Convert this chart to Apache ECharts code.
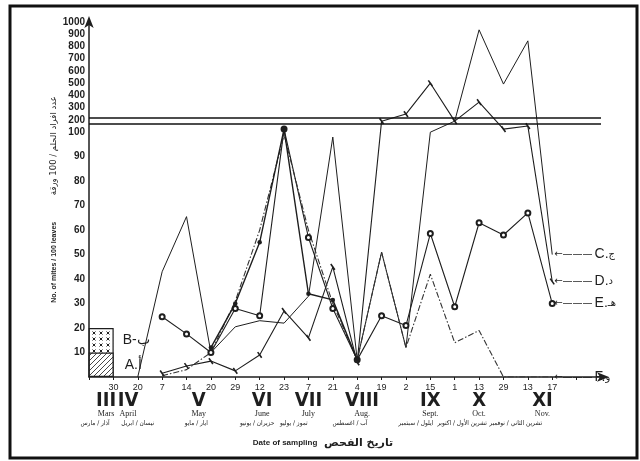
<!DOCTYPE html>
<html><head><meta charset="utf-8">
<script src="https://cdn.jsdelivr.net/npm/echarts@6/dist/echarts.min.js"></script>
<style>html,body{margin:0;padding:0;background:#fff}#c{width:640px;height:461px}</style>
</head><body><div id="c"></div>
<script>
// x positions: index 0 = 1 March (axis origin), then sampling dates
const dateLabels = ['', '30', '20', '7', '14', '20', '29', '12', '23', '7', '21', '4', '19', '2', '15', '1', '13', '29', '13', '17', '', ''];

// months (roman numeral + English) and Arabic month names
const monthPos = [0.7, 1.6, 4.5, 7.1, 9.0, 11.2, 14.0, 16.0, 18.6];
const monthRoman = ['III', 'IV', 'V', 'VI', 'VII', 'VIII', 'IX', 'X', 'XI'];
const monthEn = ['Mars', 'April', 'May', 'June', 'July', 'Aug.', 'Sept.', 'Oct.', 'Nov.'];
const monthArPos = [0.25, 2.0, 4.4, 6.9, 8.4, 10.7, 13.4, 15.3, 17.5];
const monthAr = ['آذار / مارس', 'نيسان / ابريل', 'ايار / مايو', 'حزيران / يونيو', 'تموز / يوليو', 'آب / اغسطس', 'ايلول / سبتمبر', 'تشرين الأول / اكتوبر', 'تشرين الثاني / نوفمبر'];

// mites / 100 leaves, one value per date index (null = no point)
const seriesC = [null, null, 0, 43, 65.5, 10, 20.5, 23, 22, 33, 98, 7, 51, 12, 100, 190, 936, 493, 846, 50];
const seriesD = [null, null, null, 1.5, 4.5, 6.5, 2.5, 9, 27, 16, 45, 6, 190, 248, 500, 190, 346, 125, 150, 39];
const seriesE = [null, null, null, 24.6, 17.6, 10, 28, 25, 125, 57, 28, 7, 25, 21, 58.6, 28.7, 63, 58, 67, 30];
const seriesF = [null, null, null, 0.5, 3, 10, 31, 60, 99, 60, 30, 7, 51, 12, 42, 14, 19, 0, 0, 0];
const seriesG = [null, null, null, null, null, 12, 30, 55, 125, 34, 31.5, 7];
// March blocks: A from 0 to 10, B from 10 to 20 (x = middle of March interval)
const blockX = 0.5;
const blockATop = 10;
const blockBTop = 20;

// broken axis: 0-100 linear, 100-1000 compressed (100 units per 5 display units)
function toDisp(v) { return v <= 100 ? v : 100 + (v - 100) / 20; }
function fromDisp(d) { return d <= 100 ? d : 100 + (d - 100) * 20; }
function pts(arr) {
  const out = [];
  arr.forEach((v, i) => { if (v !== null && v !== undefined) out.push([i, toDisp(v)]); });
  return out;
}

function pattern(kind) {
  const c = document.createElement('canvas');
  if (kind === 'hatch') {
    c.width = 5; c.height = 5;
    const g = c.getContext('2d');
    g.fillStyle = '#fff'; g.fillRect(0, 0, 5, 5);
    g.strokeStyle = '#333'; g.lineWidth = 0.9;
    g.beginPath(); g.moveTo(0, 5); g.lineTo(5, 0); g.moveTo(-1, 1); g.lineTo(1, -1); g.moveTo(4, 6); g.lineTo(6, 4); g.stroke();
  } else {
    c.width = 7; c.height = 6;
    const g = c.getContext('2d');
    g.fillStyle = '#fff'; g.fillRect(0, 0, 7, 6);
    g.strokeStyle = '#222'; g.lineWidth = 1;
    g.beginPath(); g.moveTo(1.5, 1.5); g.lineTo(4.5, 4.5); g.moveTo(4.5, 1.5); g.lineTo(1.5, 4.5); g.stroke();
  }
  return { image: c, repeat: 'repeat' };
}

const ink = '#1e1e1e';
const arFont = "'DejaVu Sans Condensed', 'DejaVu Sans', sans-serif";
function endLab(letter, ar) {
  return {
    show: true, distance: 2,
    formatter: '{l|←———}{t|' + letter + '.}{a|' + ar + '}',
    rich: {
      l: { fontSize: 10, color: ink, fontFamily: 'DejaVu Sans' },
      t: { fontSize: 14, color: ink, fontFamily: 'Liberation Sans', padding: [0, 0, 0, 2] },
      a: { fontSize: 10, color: ink, fontFamily: 'DejaVu Sans' }
    }
  };
}

const chart = echarts.init(document.getElementById('c'), null, { renderer: 'canvas' });
const axisBase = { type: 'value', min: 0, max: 21, gridIndex: 0, position: 'bottom', splitLine: { show: false } };
chart.setOption({
  animation: false,
  backgroundColor: '#fff',
  textStyle: { fontFamily: 'Liberation Sans' },
  grid: { left: 89, right: 39, top: 22, bottom: 84, containLabel: false, outerBoundsMode: 'none' },
  graphic: [
    { type: 'rect', silent: true, shape: { x: 10, y: 6, width: 627, height: 452 }, style: { fill: 'none', stroke: '#111', lineWidth: 3 } }
  ],
  xAxis: [
    Object.assign({}, axisBase, {
      interval: 1,
      axisLine: { show: true, lineStyle: { color: ink, width: 1.5 }, symbol: ['none', 'arrow'], symbolSize: [7, 12], symbolOffset: [0, 8] },
      axisTick: { show: true, length: 3, lineStyle: { color: ink } },
      axisLabel: { fontSize: 9, color: ink, margin: 6, formatter: v => dateLabels[Math.round(v)] || '' },
      name: '{e|Date of sampling}  {a|تاريخ الفحص}',
      nameLocation: 'middle', nameGap: 60, nameMoveOverlap: false,
      nameTextStyle: {
        padding: [0, 44, 0, 0],
        rich: {
          e: { fontSize: 8, fontWeight: 'bold', color: ink, fontFamily: 'Liberation Sans' },
          a: { fontSize: 11, fontWeight: 'bold', color: ink, fontFamily: 'DejaVu Sans' }
        }
      }
    }),
    Object.assign({}, axisBase, {
      interval: 0.05,
      axisLine: { show: false }, axisTick: { show: false },
      axisLabel: {
        margin: 15,
        formatter: v => {
          const k = monthPos.findIndex(p => Math.abs(p - v) < 0.01);
          return k < 0 ? '' : '{r|' + monthRoman[k] + '}\n{e|' + monthEn[k] + '}';
        },
        rich: {
          r: { fontSize: 20, fontWeight: 'bold', fontFamily: "'DejaVu Sans Condensed', 'Liberation Sans', sans-serif", color: ink, lineHeight: 17 },
          e: { fontSize: 8, fontFamily: 'Liberation Serif', color: ink, lineHeight: 10 }
        }
      }
    }),
    Object.assign({}, axisBase, {
      interval: 0.05,
      axisLine: { show: false }, axisTick: { show: false },
      axisLabel: {
        margin: 43,
        formatter: v => {
          const k = monthArPos.findIndex(p => Math.abs(p - v) < 0.01);
          return k < 0 ? '' : monthAr[k];
        },
        fontSize: 6.5, fontFamily: arFont, color: ink
      }
    })
  ],
  yAxis: {
    type: 'value', min: 0, max: 145, interval: 5,
    splitLine: { show: false },
    axisLine: { show: true, lineStyle: { color: ink, width: 1.5 }, symbol: ['none', 'arrow'], symbolSize: [7, 12], symbolOffset: [0, 6] },
    axisTick: { show: false },
    axisLabel: {
      fontSize: 10, fontWeight: 'bold', color: ink, margin: 4,
      formatter: d => {
        if (d === 0) return '';
        if (d <= 100) return d % 10 === 0 ? String(d) : '';
        return String(Math.round(fromDisp(d)));
      }
    },
    name: '{e|No. of mites / 100 leaves}        {a|عدد افراد الحلم / 100 ورقة}',
    nameLocation: 'middle', nameGap: 29, nameRotate: 90, nameMoveOverlap: false,
    nameTextStyle: {
      rich: {
        e: { fontSize: 7, fontWeight: 'bold', color: ink, fontFamily: 'Liberation Sans' },
        a: { fontSize: 8.5, color: ink, fontFamily: 'DejaVu Sans' }
      }
    }
  },
  series: [
    {
      name: 'B', type: 'bar', barWidth: 25, barGap: '-100%', xAxisIndex: 0,
      data: [[blockX, blockBTop]],
      itemStyle: { color: pattern('x'), borderColor: ink, borderWidth: 1.2 },
      label: { show: true, position: ['100%', '25%'], distance: 0, offset: [9, 0], verticalAlign: 'middle', formatter: 'B-ب', fontSize: 14, color: ink }
    },
    {
      name: 'A', type: 'bar', barWidth: 25, barGap: '-100%', xAxisIndex: 0,
      data: [[blockX, blockATop]],
      itemStyle: { color: pattern('hatch'), borderColor: ink, borderWidth: 1.2 },
      label: { show: true, position: ['100%', '50%'], distance: 0, offset: [11, 0], verticalAlign: 'middle', formatter: 'A.أ', fontSize: 14, color: ink }
    },
    {
      name: 'C', type: 'line', data: pts(seriesC), showSymbol: false, symbol: 'none',
      lineStyle: { color: ink, width: 1 },
      endLabel: endLab('C', 'ج'),
      markLine: {
        silent: true, symbol: 'none', label: { show: false },
        lineStyle: { color: '#111', width: 1.5, type: 'solid' },
        data: [{ yAxis: 103.3 }, { yAxis: 105.7 }]
      }
    },
    {
      name: 'D', type: 'line', data: pts(seriesD),
      symbol: 'rect', symbolSize: [1.6, 7], symbolRotate: 35,
      itemStyle: { color: ink },
      lineStyle: { color: ink, width: 1.1 },
      endLabel: endLab('D', 'د')
    },
    {
      name: 'E', type: 'line', data: pts(seriesE),
      symbol: 'emptyCircle', symbolSize: 5,
      itemStyle: { color: ink, borderWidth: 1.1 },
      lineStyle: { color: ink, width: 1.1 },
      endLabel: endLab('E', 'هـ')
    },
    {
      name: 'F', type: 'line', data: pts(seriesF), showSymbol: false, symbol: 'none',
      lineStyle: { color: '#333', width: 1.1, type: [6, 2, 1.5, 2] },
      endLabel: endLab('F', 'و')
    },
    {
      name: 'G', type: 'line', data: pts(seriesG),
      symbol: 'circle', symbolSize: 4.5,
      itemStyle: { color: ink },
      lineStyle: { color: ink, width: 1.4 }
    }
  ]
});
</script>
</body></html>
